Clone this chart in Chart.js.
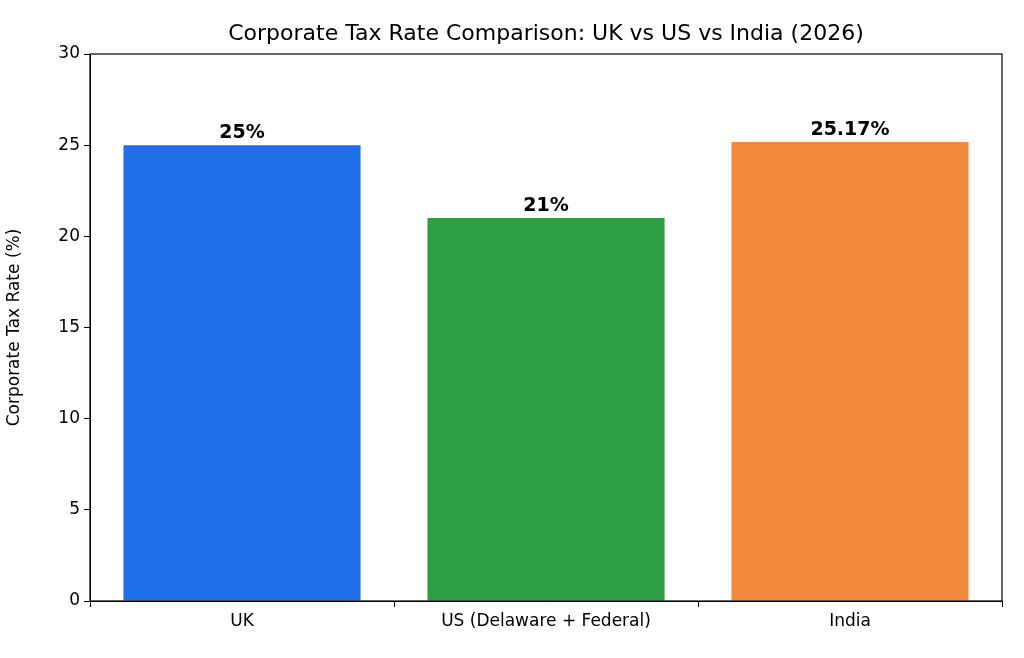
<!DOCTYPE html>
<html lang="en">
<head>
<meta charset="UTF-8">
<title>Corporate Tax Rate Comparison</title>
<script src="https://cdn.jsdelivr.net/npm/chart.js"></script>
<style>
  html, body { margin: 0; padding: 0; background: #fff; }
  #wrap { width: 1024px; height: 658px; }
</style>
</head>
<body>
<div id="wrap"><canvas id="chart"></canvas></div>
<script>
const categories = ['UK', 'US (Delaware + Federal)', 'India'];
const taxRates = [25, 21, 25.17];
const valueLabels = ['25%', '21%', '25.17%'];
const barColors = ['#1f6fe8', '#2e9e44', '#f28a3e'];

const FONT = '"DejaVu Sans", sans-serif';

// frame, title and value labels, drawn matplotlib style
const extras = {
  id: 'extras',
  afterDraw(chart) {
    const ctx = chart.ctx, a = chart.chartArea;
    ctx.save();
    ctx.strokeStyle = '#000';
    ctx.lineWidth = 1.2;
    ctx.strokeRect(a.left, a.top, a.right - a.left, a.bottom - a.top);

    ctx.fillStyle = '#000';
    ctx.textAlign = 'center';
    ctx.textBaseline = 'middle';
    ctx.font = '22px ' + FONT;
    ctx.fillText('Corporate Tax Rate Comparison: UK vs US vs India (2026)', (a.left + a.right) / 2, 34);

    ctx.font = 'bold 19px ' + FONT;
    ctx.textBaseline = 'bottom';
    chart.getDatasetMeta(0).data.forEach((bar, i) => {
      ctx.fillText(valueLabels[i], bar.x, bar.y - 3);
    });
    ctx.restore();
  }
};

new Chart(document.getElementById('chart'), {
  type: 'bar',
  data: {
    labels: categories,
    datasets: [{
      data: taxRates,
      backgroundColor: barColors,
      borderWidth: 0,
      barPercentage: 0.78,
      categoryPercentage: 1
    }]
  },
  options: {
    responsive: true,
    maintainAspectRatio: false,
    animation: false,
    layout: { padding: { top: 54, right: 22, left: 0, bottom: 0 } },
    plugins: { legend: { display: false }, tooltip: { enabled: false } },
    scales: {
      x: {
        grid: { display: true, drawOnChartArea: false, tickLength: 6, color: '#000' },
        border: { color: '#000' },
        ticks: { color: '#000', font: { family: FONT, size: 17 }, padding: 4 },
        afterFit(scale) { scale.height = 57; }
      },
      y: {
        min: 0, max: 30,
        grid: { display: true, drawOnChartArea: false, tickLength: 6, color: '#000' },
        border: { color: '#000' },
        ticks: { stepSize: 5, color: '#000', font: { family: FONT, size: 17 }, padding: 4 },
        title: { display: true, text: 'Corporate Tax Rate (%)', color: '#000', font: { family: FONT, size: 17 } },
        afterFit(scale) { scale.width = 90; }
      }
    }
  },
  plugins: [extras]
});
</script>
</body>
</html>
